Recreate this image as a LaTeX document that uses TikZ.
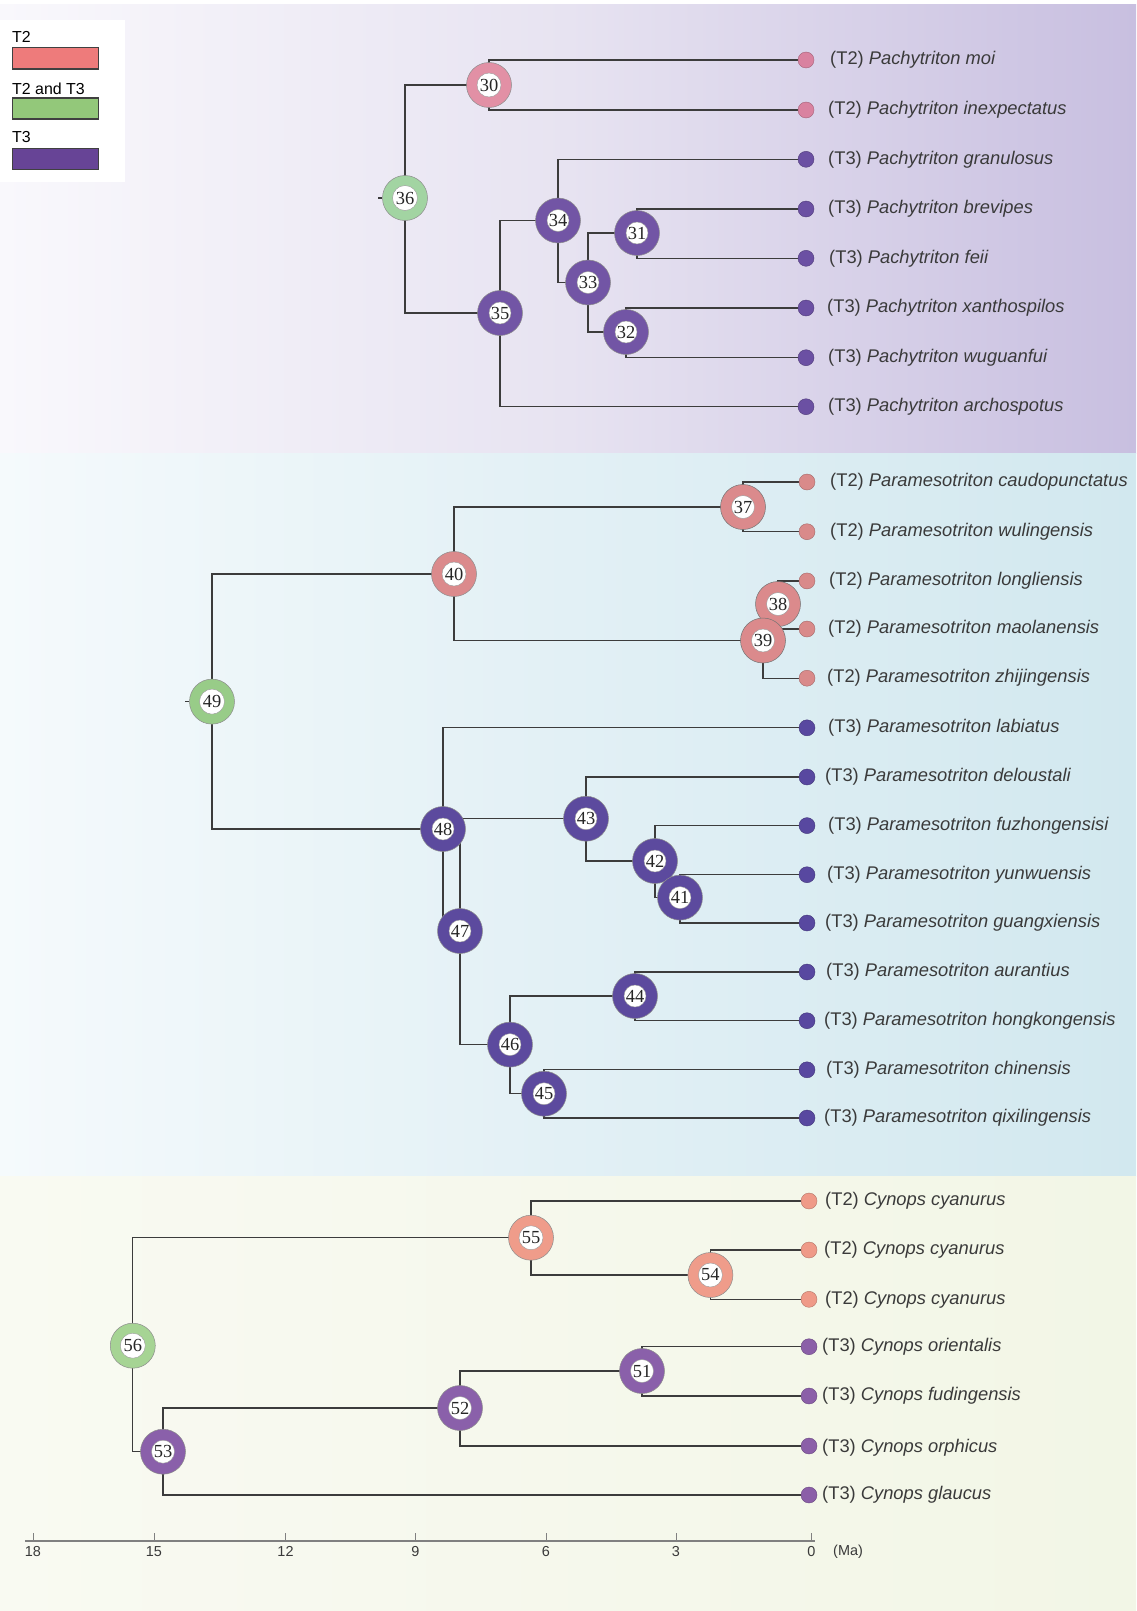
\documentclass[tikz,border=0pt]{standalone}
\usepackage{fontspec}
\setmainfont{Liberation Sans}
\newfontfamily\numfont{Liberation Serif}
\pgfdeclarelayer{panel}
\pgfdeclarelayer{edges}
\pgfsetlayers{panel,edges,main}
\definecolor{txt}{HTML}{3A3A3A}
\definecolor{lin}{HTML}{3C3C3C}
\definecolor{topL}{HTML}{F9F8FC}
\definecolor{topM}{HTML}{E7E3F1}
\definecolor{topR}{HTML}{C8BFE0}
\definecolor{midL}{HTML}{F5FAFC}
\definecolor{midM}{HTML}{E2F0F5}
\definecolor{midR}{HTML}{D2E8EF}
\definecolor{botL}{HTML}{F9FAF2}
\definecolor{botR}{HTML}{F2F6E6}
\definecolor{legA}{HTML}{EE7B7B}
\definecolor{legB}{HTML}{93C87A}
\definecolor{legC}{HTML}{674496}
\definecolor{tPink}{HTML}{E290A5}
\definecolor{tGreen}{HTML}{A2D4A2}
\definecolor{tPurp}{HTML}{7255A5}
\definecolor{tPinkDot}{HTML}{D982A0}
\definecolor{tPurpDot}{HTML}{6B50A3}
\definecolor{mPink}{HTML}{DB8A8C}
\definecolor{mGreen}{HTML}{98CC88}
\definecolor{mPurp}{HTML}{5C4A9E}
\definecolor{mPinkDot}{HTML}{D98A8A}
\definecolor{mPurpDot}{HTML}{5848A0}
\definecolor{bPink}{HTML}{EF9C8A}
\definecolor{bGreen}{HTML}{A6D494}
\definecolor{bPurp}{HTML}{8A60AA}
\definecolor{bPinkDot}{HTML}{EF9A88}
\definecolor{bPurpDot}{HTML}{8B5FA8}
\begin{document}
\begin{tikzpicture}[x=1bp,y=-1bp,
  ring/.style 2 args={circle, minimum size=45bp, inner sep=0pt, fill=#1, draw=black!45, line width=0.5bp,
    font=\numfont\fontsize{18.5}{18.5}\selectfont, text=black!85,
    path picture={\fill[white,draw=black!40,line width=0.4bp] (path picture bounding box.center) circle (#2bp);}},
  dot/.style={circle, minimum size=16bp, inner sep=0pt, fill=#1, draw=#1!75!black, line width=0.4bp},
  lab/.style={anchor=west, inner sep=0pt, font=\fontsize{18.4}{20}\selectfont, text=txt},
  branch/.style={draw=lin, line width=1.3bp},
  legtext/.style={anchor=base west, inner sep=0pt, font=\fontsize{16}{18}\selectfont, text=black},
  legbox/.style={draw=black!75, line width=1.2bp, anchor=north west, minimum width=85.5bp, minimum height=21bp, inner sep=0pt},
  axislabel/.style={anchor=north, inner sep=0pt, font=\fontsize{14.5}{16}\selectfont, text=txt}]
\useasboundingbox (0,0) rectangle (1136,1611);
\begin{pgfonlayer}{panel}
\fill[white] (0,0) rectangle (1136,6);
\shade[left color=topL, right color=topR, middle color=topM] (0,5) rectangle (1136,453);
\shade[left color=midL, right color=midR, middle color=midM] (0,453) rectangle (1136,1176);
\shade[left color=botL, right color=botR] (0,1176) rectangle (1136,1611);
\fill[white] (0,20) rectangle (125,182);
\end{pgfonlayer}
% legend
\node[legtext] (lt1) at (12,43) {T2};
\node[legbox, fill=legA] (lb1) at (12,47.3) {};
\node[legtext] (lt2) at (12,94) {T2 and T3};
\node[legbox, fill=legB] (lb2) at (12,97.3) {};
\node[legtext] (lt3) at (12,142) {T3};
\node[legbox, fill=legC] (lb3) at (12,147.7) {};
% ---------------- top panel ----------------
\node[ring={tGreen}{12.5}] (n36) at (405,198) {36};
\node[ring={tPink}{12}] (n30) at (489,85) {30};
\node[ring={tPurp}{11}] (n35) at (500,313) {35};
\node[ring={tPurp}{11}] (n34) at (558,220.5) {34};
\node[ring={tPurp}{11}] (n33) at (588,282.5) {33};
\node[ring={tPurp}{11}] (n31) at (637,233) {31};
\node[ring={tPurp}{11}] (n32) at (626,332) {32};
\node[dot=tPinkDot] (d1) at (806,60) {};
\node[dot=tPinkDot] (d2) at (806,110) {};
\node[dot=tPurpDot] (d3) at (806,159.3) {};
\node[dot=tPurpDot] (d4) at (806,209) {};
\node[dot=tPurpDot] (d5) at (806,258.3) {};
\node[dot=tPurpDot] (d6) at (806,308) {};
\node[dot=tPurpDot] (d7) at (806,357.7) {};
\node[dot=tPurpDot] (d8) at (806,406.7) {};
\node[lab] (t1) at (830,60) {(T2) \textit{Pachytriton moi}};
\node[lab] (t2) at (828,110) {(T2) \textit{Pachytriton inexpectatus}};
\node[lab] (t3) at (828,159.3) {(T3) \textit{Pachytriton granulosus}};
\node[lab] (t4) at (828,209) {(T3) \textit{Pachytriton brevipes}};
\node[lab] (t5) at (829,258.3) {(T3) \textit{Pachytriton feii}};
\node[lab] (t6) at (827,308) {(T3) \textit{Pachytriton xanthospilos}};
\node[lab] (t7) at (828,357.7) {(T3) \textit{Pachytriton wuguanfui}};
\node[lab] (t8) at (828,406.7) {(T3) \textit{Pachytriton archospotus}};
% ---------------- middle panel ----------------
\node[ring={mGreen}{12.5}] (n49) at (212,701.6) {49};
\node[ring={mPink}{12}] (n40) at (454,574) {40};
\node[ring={mPink}{11.5}, draw=black!55] (n37) at (743,507) {37};
\node[ring={mPink}{11.5}, draw=black!55] (n38) at (778,604) {38};
\node[ring={mPink}{11.5}, draw=black!55] (n39) at (763,640.5) {39};
\node[ring={mPurp}{11}] (n48) at (443,829) {48};
\node[ring={mPurp}{11}] (n47) at (460,931) {47};
\node[ring={mPurp}{11}] (n43) at (586,818.7) {43};
\node[ring={mPurp}{11}] (n42) at (655,861) {42};
\node[ring={mPurp}{11}] (n41) at (680,897.6) {41};
\node[ring={mPurp}{11}] (n46) at (510,1044.6) {46};
\node[ring={mPurp}{11}] (n44) at (635,996) {44};
\node[ring={mPurp}{11}] (n45) at (544,1093.7) {45};
\node[dot=mPinkDot] (e1) at (807,482) {};
\node[dot=mPinkDot] (e2) at (807,531.7) {};
\node[dot=mPinkDot] (e3) at (807,580.9) {};
\node[dot=mPinkDot] (e4) at (807,629) {};
\node[dot=mPinkDot] (e5) at (807,678.2) {};
\node[dot=mPurpDot] (e6) at (807,727.8) {};
\node[dot=mPurpDot] (e7) at (807,777) {};
\node[dot=mPurpDot] (e8) at (807,825.6) {};
\node[dot=mPurpDot] (e9) at (807,874.7) {};
\node[dot=mPurpDot] (e10) at (807,923) {};
\node[dot=mPurpDot] (e11) at (807,972) {};
\node[dot=mPurpDot] (e12) at (807,1020.7) {};
\node[dot=mPurpDot] (e13) at (807,1069.8) {};
\node[dot=mPurpDot] (e14) at (807,1118) {};
\node[lab] (u1) at (830,482) {(T2) \textit{Paramesotriton caudopunctatus}};
\node[lab] (u2) at (830,531.7) {(T2) \textit{Paramesotriton wulingensis}};
\node[lab] (u3) at (829,580.9) {(T2) \textit{Paramesotriton longliensis}};
\node[lab] (u4) at (828,629) {(T2) \textit{Paramesotriton maolanensis}};
\node[lab] (u5) at (827,678.2) {(T2) \textit{Paramesotriton zhijingensis}};
\node[lab] (u6) at (828,727.8) {(T3) \textit{Paramesotriton labiatus}};
\node[lab] (u7) at (825,777) {(T3) \textit{Paramesotriton deloustali}};
\node[lab] (u8) at (828,825.6) {(T3) \textit{Paramesotriton fuzhongensisi}};
\node[lab] (u9) at (827,874.7) {(T3) \textit{Paramesotriton yunwuensis}};
\node[lab] (u10) at (825,923) {(T3) \textit{Paramesotriton guangxiensis}};
\node[lab] (u11) at (826,972) {(T3) \textit{Paramesotriton aurantius}};
\node[lab] (u12) at (824,1020.7) {(T3) \textit{Paramesotriton hongkongensis}};
\node[lab] (u13) at (826,1069.8) {(T3) \textit{Paramesotriton chinensis}};
\node[lab] (u14) at (824,1118) {(T3) \textit{Paramesotriton qixilingensis}};
% ---------------- bottom panel ----------------
\node[ring={bGreen}{12.5}] (n56) at (132.8,1345.7) {56};
\node[ring={bPink}{12}] (n55) at (531,1237.7) {55};
\node[ring={bPink}{12}] (n54) at (710.4,1275) {54};
\node[ring={bPurp}{11.5}] (n53) at (163,1451.7) {53};
\node[ring={bPurp}{11.5}] (n52) at (460,1408) {52};
\node[ring={bPurp}{11.5}] (n51) at (642,1371) {51};
\node[dot=bPinkDot] (f1) at (809,1201) {};
\node[dot=bPinkDot] (f2) at (809,1250) {};
\node[dot=bPinkDot] (f3) at (809,1299.3) {};
\node[dot=bPurpDot] (f4) at (809,1346.7) {};
\node[dot=bPurpDot] (f5) at (809,1396) {};
\node[dot=bPurpDot] (f6) at (809,1446) {};
\node[dot=bPurpDot] (f7) at (809,1495) {};
\node[lab] (v1) at (825,1201) {(T2) \textit{Cynops cyanurus}};
\node[lab] (v2) at (824,1250) {(T2) \textit{Cynops cyanurus}};
\node[lab] (v3) at (825,1299.3) {(T2) \textit{Cynops cyanurus}};
\node[lab] (v4) at (822,1346.7) {(T3) \textit{Cynops orientalis}};
\node[lab] (v5) at (822,1396) {(T3) \textit{Cynops fudingensis}};
\node[lab] (v6) at (822,1448) {(T3) \textit{Cynops orphicus}};
\node[lab] (v7) at (822,1495) {(T3) \textit{Cynops glaucus}};
% ---------------- axis ----------------
\coordinate (ax0) at (25,1541);
\coordinate (ax1) at (815,1541);
\draw[draw=black!50, line width=1.2bp] (ax0) -- (ax1);
\foreach \xx/\lb in {33/18,154/15,285.5/12,415.5/9,546/6,676/3,811.5/0}{
  \draw[draw=black!50, line width=1bp] (\xx,1541) -- (\xx,1533);
  \node[axislabel] (ax\lb) at (\xx,1546) {\lb};
}
\node[axislabel, anchor=north west] (ma) at (833,1545) {(Ma)};
% ---------------- branches ----------------
\begin{pgfonlayer}{edges}
\draw[branch] (n36.west) -- ++(-4,0);
\draw[branch] (n36.center) |- (n30.center);
\draw[branch] (n36.center) |- (n35.center);
\draw[branch] (n30.center) |- (d1.center);
\draw[branch] (n30.center) |- (d2.center);
\draw[branch] (n35.center) |- (n34.center);
\draw[branch] (n35.center) |- (d8.center);
\draw[branch] (n34.center) |- (d3.center);
\draw[branch] (n34.center) |- (n33.center);
\draw[branch] (n33.center) |- (n31.center);
\draw[branch] (n33.center) |- (n32.center);
\draw[branch] (n31.center) |- (d4.center);
\draw[branch] (n31.center) |- (d5.center);
\draw[branch] (n32.center) |- (d6.center);
\draw[branch] (n32.center) |- (d7.center);
%
\draw[branch] (n49.west) -- ++(-4,0);
\draw[branch] (n49.center) |- (n40.center);
\draw[branch] (n49.center) |- (n48.center);
\draw[branch] (n40.center) |- (n37.center);
\draw[branch] (n40.center) |- (n39.center);
\draw[branch] (n37.center) |- (e1.center);
\draw[branch] (n37.center) |- (e2.center);
\draw[branch] (n39.center) |- (n38.center);
\draw[branch] (n39.center) |- (e5.center);
\draw[branch] (n38.center) |- (e3.center);
\draw[branch] (n38.center) |- (e4.center);
\draw[branch] (n48.center) |- (e6.center);
\draw[branch] (n48.center |- n43.center) -- (n43.center);
\draw[branch] (n48.center) -- (n48.center |- n47.center);
\draw[branch] (n47.center) -- (n47.center |- n48.center);
\draw[branch] (n47.center) |- (n46.center);
\draw[branch] (n43.center) |- (e7.center);
\draw[branch] (n43.center) |- (n42.center);
\draw[branch] (n42.center) |- (e8.center);
\draw[branch] (n42.center) |- (n41.center);
\draw[branch] (n41.center) |- (e9.center);
\draw[branch] (n41.center) |- (e10.center);
\draw[branch] (n46.center) |- (n44.center);
\draw[branch] (n46.center) |- (n45.center);
\draw[branch] (n44.center) |- (e11.center);
\draw[branch] (n44.center) |- (e12.center);
\draw[branch] (n45.center) |- (e13.center);
\draw[branch] (n45.center) |- (e14.center);
%
\draw[branch] (n56.center) |- (n55.center);
\draw[branch] (n56.center) |- (n53.center);
\draw[branch] (n55.center) |- (f1.center);
\draw[branch] (n55.center) |- (n54.center);
\draw[branch] (n54.center) |- (f2.center);
\draw[branch] (n54.center) |- (f3.center);
\draw[branch] (n53.center) |- (n52.center);
\draw[branch] (n53.center) |- (f7.center);
\draw[branch] (n52.center) |- (n51.center);
\draw[branch] (n52.center) |- (f6.center);
\draw[branch] (n51.center) |- (f4.center);
\draw[branch] (n51.center) |- (f5.center);
\end{pgfonlayer}
\end{tikzpicture}
\end{document}
